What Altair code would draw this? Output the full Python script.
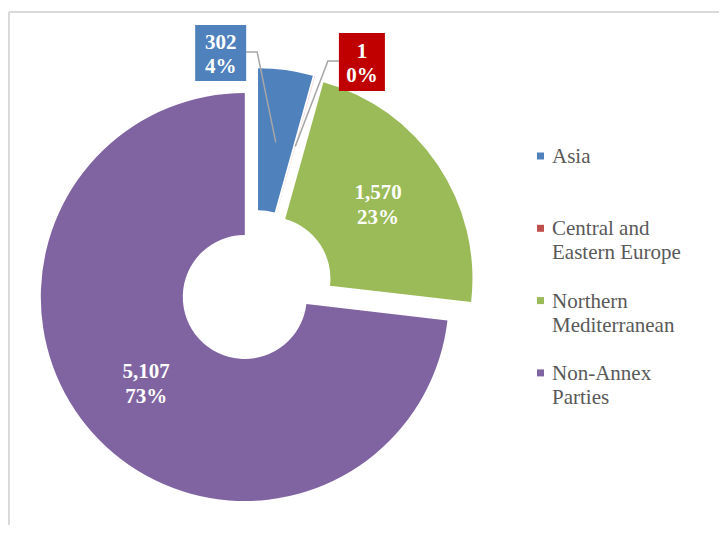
import math
import numpy as np
import pandas as pd
import altair as alt

# ---- data ----
categories = ["Asia", "Central and Eastern Europe", "Northern Mediterranean", "Non-Annex Parties"]
values = [302, 1, 1570, 5107]
percent_labels = ["4%", "0%", "23%", "73%"]
legend_labels = ["Asia", "Central and\nEastern Europe", "Northern\nMediterranean", "Non-Annex\nParties"]

# ---- styles ----
slice_colors = ["#4F81BD", "#C0504D", "#9BBB59", "#8064A2"]
box_colors = {"Asia": "#4F81BD", "Central and Eastern Europe": "#C00000"}
W, H = 711, 517
CX, CY = 248, 279          # pie centre in plot coordinates
R_OUT, R_IN = 204, 62
EXPLODE = 15
R_LABEL = 132
R_LEADER = 131
# label boxes: nudge from slice outer mid point, box size, side of leader
box_style = {
    "Asia": dict(dx=-65, dy=-17, w=51, h=56, side="right"),
    "Central and Eastern Europe": dict(dx=47, dy=-14, w=46, h=58, side="left"),
}
FONT = "Liberation Serif"
LH_IN, LH_BOX = 25, 24

total = float(sum(values))
vals = np.array(values, dtype=float)
end = np.cumsum(vals)
start = end - vals
mid = (start + end) / 2.0 / total * 2 * np.pi
ocx = CX + EXPLODE * np.sin(mid)
ocy = CY - EXPLODE * np.cos(mid)

texts = [f"{v:,}\n{p}" for v, p in zip(values, percent_labels)]

slices = pd.DataFrame({
    "category": categories, "start": start, "end": end,
    "cx": ocx, "cy": ocy,
})

color = alt.Color("category:N", scale=alt.Scale(domain=categories, range=slice_colors), legend=None)

arcs = alt.Chart(slices).mark_arc(outerRadius=R_OUT, innerRadius=R_IN).encode(
    theta=alt.Theta("start:Q", scale=alt.Scale(domain=[0, total], range=[0, 2 * math.pi])),
    theta2="end:Q",
    x=alt.X("cx:Q", scale=None),
    y=alt.Y("cy:Q", scale=None),
    color=color,
)

inner_rows = []
box_rows = []
leader_rows = []
for i, c in enumerate(categories):
    if c in box_style:
        s = box_style[c]
        ox = ocx[i] + R_OUT * np.sin(mid[i])
        oy = ocy[i] - R_OUT * np.cos(mid[i])
        bx, by = ox + s["dx"], oy + s["dy"]
        box_rows.append(dict(category=c, x1=bx - s["w"] / 2, x2=bx + s["w"] / 2,
                             y1=by - s["h"] / 2, y2=by + s["h"] / 2,
                             tx=bx, ty=by + 2 - LH_BOX / 2, text=texts[i], fill=box_colors[c]))
        lx = ocx[i] + R_LEADER * np.sin(mid[i])
        ly = ocy[i] - R_LEADER * np.cos(mid[i])
        if s["side"] == "right":
            ex = bx + s["w"] / 2
            elx = ex + 11
        else:
            ex = bx - s["w"] / 2
            elx = ex - 11
        ey = by - 1
        leader_rows += [dict(category=c, o=0, x=lx, y=ly),
                        dict(category=c, o=1, x=elx, y=ey),
                        dict(category=c, o=2, x=ex, y=ey)]
    else:
        inner_rows.append(dict(category=c,
                               tx=ocx[i] + R_LABEL * np.sin(mid[i]),
                               ty=ocy[i] - R_LABEL * np.cos(mid[i]) - LH_IN / 2,
                               text=texts[i]))

inner_df = pd.DataFrame(inner_rows)
box_df = pd.DataFrame(box_rows)
leader_df = pd.DataFrame(leader_rows)

inner_text = alt.Chart(inner_df).mark_text(
    font=FONT, fontSize=21, fontWeight="bold", color="white",
    lineBreak="\n", lineHeight=LH_IN, baseline="middle", align="center",
).encode(x=alt.X("tx:Q", scale=None), y=alt.Y("ty:Q", scale=None), text="text:N")

leaders = alt.Chart(leader_df).mark_line(color="#A6A6A6", strokeWidth=1.5).encode(
    x=alt.X("x:Q", scale=None), y=alt.Y("y:Q", scale=None),
    detail="category:N", order="o:Q",
)

boxes = alt.Chart(box_df).mark_rect().encode(
    x=alt.X("x1:Q", scale=None), x2="x2:Q",
    y=alt.Y("y1:Q", scale=None), y2="y2:Q",
    fill=alt.Fill("fill:N", scale=None),
)

box_text = alt.Chart(box_df).mark_text(
    font=FONT, fontSize=21, fontWeight="bold", color="white",
    lineBreak="\n", lineHeight=LH_BOX, baseline="middle", align="center",
).encode(x=alt.X("tx:Q", scale=None), y=alt.Y("ty:Q", scale=None), text="text:N")

# legend
LEG_X, LEG_Y0, LEG_STEP = 532.5, 148, 72.3
legend_df = pd.DataFrame({
    "category": categories,
    "label": legend_labels,
    "sx": [LEG_X] * len(categories),
    "sy": [LEG_Y0 + k * LEG_STEP for k in range(len(categories))],
})
legend_df["lx"] = legend_df["sx"] + 11.5
legend_df["ly"] = legend_df["sy"] + 7

leg_sym = alt.Chart(legend_df).mark_square(size=49, opacity=1).encode(
    x=alt.X("sx:Q", scale=None), y=alt.Y("sy:Q", scale=None), color=color,
)
leg_txt = alt.Chart(legend_df).mark_text(
    font=FONT, fontSize=21, color="#595959", align="left", baseline="alphabetic",
    lineBreak="\n", lineHeight=24,
).encode(x=alt.X("lx:Q", scale=None), y=alt.Y("ly:Q", scale=None), text="label:N")

# chart frame (top and left edges visible in the reference)
frame_top = alt.Chart(legend_df).mark_rule(color="#D9D9D9", strokeWidth=2).encode(
    x=alt.value(1), x2=alt.value(W), y=alt.value(4)
)
frame_left = alt.Chart(legend_df).mark_rule(color="#D9D9D9", strokeWidth=2).encode(
    x=alt.value(1), y=alt.value(4), y2=alt.value(H)
)

chart = alt.layer(
    frame_top, frame_left, arcs, leaders, boxes, box_text, inner_text, leg_sym, leg_txt
).properties(
    width=W, height=H, padding=0, background="white",
    autosize=alt.AutoSizeParams(type="none"),
).configure_view(stroke=None)

chart.save("out.html", embed_options={"renderer": "svg", "actions": False})
